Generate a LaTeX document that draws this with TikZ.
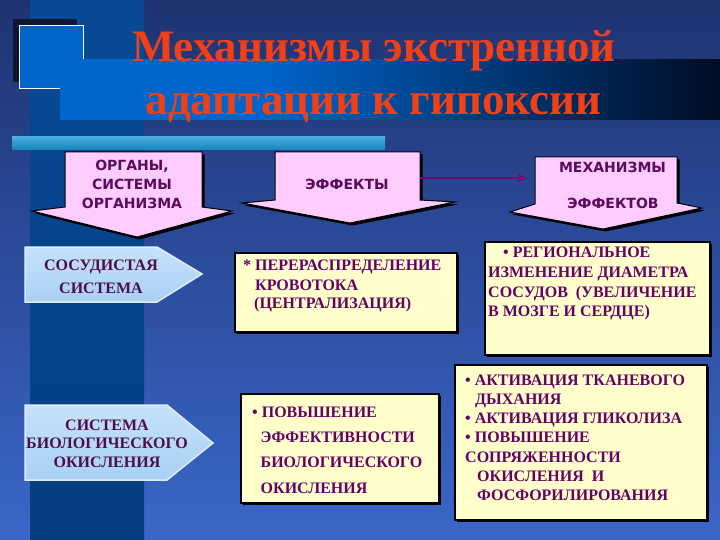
\documentclass[tikz,border=0pt]{standalone}
\usepackage{fontspec}
\setmainfont{Liberation Serif}
\newfontfamily\arrowfont{DejaVu Sans}
\usetikzlibrary{arrows.meta}
\definecolor{bgtop}{HTML}{1F3371}
\definecolor{bgmid}{HTML}{294690}
\definecolor{bgbot}{HTML}{3A67C9}
\definecolor{stripe}{HTML}{084A96}
\definecolor{stripebot}{HTML}{043E80}
\definecolor{brightblue}{HTML}{0066CC}
\definecolor{barend}{HTML}{000C24}
\definecolor{cyanband}{HTML}{1A9AD8}
\definecolor{darksq}{HTML}{0E1630}
\definecolor{titlered}{HTML}{F04018}
\definecolor{pinkfill}{HTML}{FFCCFF}
\definecolor{purpletext}{HTML}{5C0A5C}
\definecolor{serifpurple}{HTML}{4E0E4E}
\definecolor{yellowfill}{HTML}{FFFFCC}
\definecolor{penttop}{HTML}{C6E2FC}
\definecolor{pentbot}{HTML}{A8D0F4}
\definecolor{pentedge}{HTML}{DDEEFF}
\definecolor{arrowpurple}{HTML}{660066}
\definecolor{linkpurple}{HTML}{740A74}
\pgfdeclarehorizontalshading{titlebar}{100bp}{color(0bp)=(brightblue); color(25bp)=(brightblue); color(40bp)=(brightblue); color(75bp)=(barend); color(100bp)=(barend)}
\tikzset{
  pinkshape/.style={fill=pinkfill, draw=black, line width=1pt, line join=miter},
  pinkshadow/.style={fill=black, shift={(2.5,2.5)}},
  pinktext/.style={font=\arrowfont\bfseries\fontsize{14}{19}\selectfont, text=purpletext, inner sep=0pt, align=center},
  pentshape/.style={top color=penttop, bottom color=pentbot, draw=pentedge, line width=1.5pt},
  penttext/.style={font=\bfseries\fontsize{16}{20}\selectfont, text=serifpurple, inner sep=0pt, align=center},
  yellowbox/.style={fill=yellowfill, draw=black, line width=1.8pt},
  yellowshadow/.style={fill=black},
  yellowtext/.style={font=\bfseries\fontsize{16}{20}\selectfont, text=arrowpurple, inner sep=0pt, align=left, anchor=north west},
  titletext/.style={font=\bfseries\fontsize{45}{50}\selectfont, inner sep=0pt, anchor=base, text=titlered},
}
\begin{document}
\begin{tikzpicture}[x=1pt, y=-1pt]
\useasboundingbox (0,0) rectangle (720,540);
% background
\fill[top color=bgtop, middle color=bgmid, bottom color=bgbot] (0,0) rectangle (720,540);
\fill[top color=stripe, bottom color=stripebot] (30,0) rectangle (144,540);
% decorative squares and bars
\fill[darksq] (13,19) rectangle (77,82);
\draw[fill=brightblue, draw=white, line width=1pt] (19,26) rectangle (83,89);
\fill[shading=titlebar] (60,60) rectangle (720,120);
\fill[top color=cyanband!80!white, bottom color=cyanband!85!black] (12,137) rectangle (385,150);
% title
\node[titletext] (t1) at (374,62) {Механизмы экстренной};
\node[titletext] (t2) at (373.5,115) {адаптации к гипоксии};
% pink down arrows
\fill[pinkshadow] (65,152) -- (202,152) -- (202,207) -- (232,211) -- (137,237) -- (32,211) -- (65,207) -- cycle;
\draw[pinkshape] (65,152) -- (202,152) -- (202,207) -- (232,211) -- (137,237) -- (32,211) -- (65,207) -- cycle;
\fill[pinkshadow] (275,152) -- (420,152) -- (420,200) -- (455,202) -- (350,223) -- (242,203) -- (275,200) -- cycle;
\draw[pinkshape] (275,152) -- (420,152) -- (420,200) -- (455,202) -- (350,223) -- (242,203) -- (275,200) -- cycle;
\fill[pinkshadow] (535,157) -- (677,157) -- (677,203) -- (702,208) -- (603,229) -- (510,212) -- (535,204) -- cycle;
\draw[pinkshape] (535,157) -- (677,157) -- (677,203) -- (702,208) -- (603,229) -- (510,212) -- (535,204) -- cycle;
\node[inner sep=0pt, minimum width=145pt, minimum height=50pt] (effbox) at (347.5,178) {};
\node[inner sep=0pt, minimum width=142pt, minimum height=46pt] (mechbox) at (606,180) {};
\node[pinktext, anchor=north] (organs) at (132,156.7) {\strut ОРГАНЫ,\\СИСТЕМЫ\\ОРГАНИЗМА};
\node[pinktext, anchor=base] (effects) at (347,190) {ЭФФЕКТЫ};
\node[pinktext, anchor=base] (mech1) at (612.5,173) {МЕХАНИЗМЫ};
\node[pinktext, anchor=base] (mech2) at (613,208) {ЭФФЕКТОВ};
\draw[linkpurple, line width=2pt, -{Triangle[length=9pt,width=8pt]}] (effbox.east |- 0,178) -- (527,178);
% pentagons
\draw[pentshape] (25,247) -- (157,247) -- (202,274) -- (157,302) -- (25,302) -- cycle;
\node[penttext, anchor=north] (vasc) at (101,256) {\strut СОСУДИСТАЯ\\[3pt]СИСТЕМА};
\draw[pentshape] (25,405) -- (167,405) -- (213,443) -- (167,480) -- (25,480) -- cycle;
\node[penttext, anchor=north, font=\bfseries\fontsize{16}{18.5}\selectfont] (bio) at (107,417) {\strut СИСТЕМА\\БИОЛОГИЧЕСКОГО\\ОКИСЛЕНИЯ};
% yellow boxes
\fill[yellowshadow] (237,255) rectangle (459,334);
\draw[yellowbox] (235,253) rectangle (457,332);
\node[yellowtext] (redis) at (243,256) {\strut * ПЕРЕРАСПРЕДЕЛЕНИЕ\\\hspace*{12pt}КРОВОТОКА\\[-2pt]\hspace*{11pt}(ЦЕНТРАЛИЗАЦИЯ)};
\fill[yellowshadow] (487,244) rectangle (712,357);
\draw[yellowbox] (485,242) rectangle (710,355);
\node[yellowtext] (region) at (488,243) {\strut\hspace*{15pt}• РЕГИОНАЛЬНОЕ\\ИЗМЕНЕНИЕ ДИАМЕТРА\\СОСУДОВ \ (УВЕЛИЧЕНИЕ\\[-1pt]В МОЗГЕ И СЕРДЦЕ)};
\fill[yellowshadow] (243,396) rectangle (441,505);
\draw[yellowbox] (241,394) rectangle (439,503);
\node[yellowtext, font=\bfseries\fontsize{16}{25.3}\selectfont] (eff) at (252,399.3) {\strut • ПОВЫШЕНИЕ\\\hspace*{8.5pt}ЭФФЕКТИВНОСТИ\\\hspace*{8.5pt}БИОЛОГИЧЕСКОГО\\\hspace*{8.5pt}ОКИСЛЕНИЯ};
\fill[yellowshadow] (457,367) rectangle (709,522);
\draw[yellowbox] (455,365) rectangle (707,520);
\node[yellowtext, font=\bfseries\fontsize{16}{19.2}\selectfont] (resp) at (465,371.6) {\strut • АКТИВАЦИЯ ТКАНЕВОГО\\\hspace*{10pt}ДЫХАНИЯ\\• АКТИВАЦИЯ ГЛИКОЛИЗА\\• ПОВЫШЕНИЕ\\СОПРЯЖЕННОСТИ\\\hspace*{12pt}ОКИСЛЕНИЯ \ И\\\hspace*{12pt}ФОСФОРИЛИРОВАНИЯ};
\end{tikzpicture}
\end{document}
